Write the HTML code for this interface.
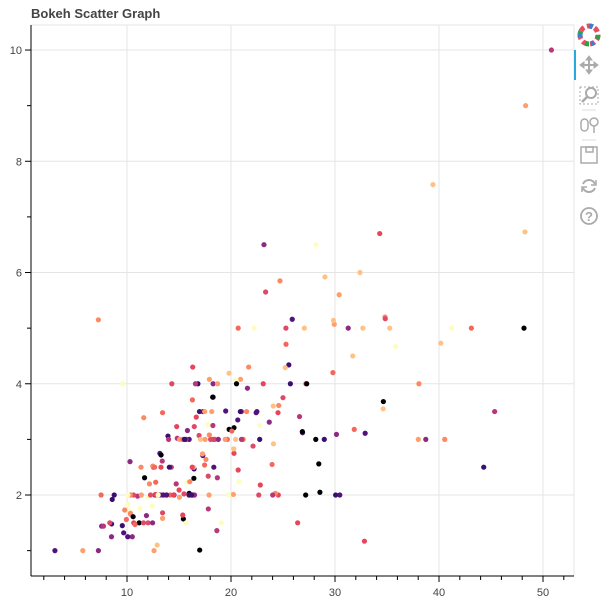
<!DOCTYPE html>
<html><head><meta charset="utf-8">
<style>
body{margin:0;background:#fff;font-family:"Liberation Sans",sans-serif;}
#wrap{position:relative;width:613px;height:611px;overflow:hidden;}
</style></head>
<body>
<div id="wrap">
<svg id="chart" width="613" height="611" xmlns="http://www.w3.org/2000/svg">
<text x="31" y="18" font-size="13" font-weight="bold" fill="#444">Bokeh Scatter Graph</text>
<rect x="31" y="25" width="543" height="551" fill="none" stroke="#e5e5e5"/>
<g id="grid"></g>
<g id="points"></g>
<g id="axes"></g>
<g id="toolbar">
 <g transform="translate(589,35)">
  <circle r="9" fill="none" stroke="#e84d60" stroke-width="5" stroke-dasharray="5 3"/>
  <circle r="9" fill="none" stroke="#2da14b" stroke-width="5" stroke-dasharray="4 10"/>
  <circle r="9" fill="none" stroke="#3a7fd6" stroke-width="5" stroke-dasharray="3 14" stroke-dashoffset="8"/>
 </g>
 <rect x="574" y="50" width="2" height="30" fill="#26aae1"/>
 <g transform="translate(589,65)" stroke="#aaa" fill="#aaa">
  <line x1="-8" y1="0" x2="8" y2="0" stroke-width="2"/><line x1="0" y1="-8" x2="0" y2="8" stroke-width="2"/>
  <path d="M-9 0 l4 -3 v6z M9 0 l-4 -3 v6z M0 -9 l-3 4 h6z M0 9 l-3 -4 h6z"/>
 </g>
 <g transform="translate(589,95)" stroke="#aaa" fill="none">
  <rect x="-9" y="-8" width="18" height="17" stroke-dasharray="2 2"/>
  <circle cx="2" cy="-2" r="5" stroke-width="2"/><line x1="-2" y1="2" x2="-7" y2="7" stroke-width="2.5"/>
 </g>
 <line x1="582" y1="110" x2="596" y2="110" stroke="#ddd"/>
 <g transform="translate(589,125)" stroke="#aaa" fill="none" stroke-width="1.5">
  <rect x="-8" y="-6" width="7" height="12" rx="3.5"/><circle cx="5" cy="-3" r="4"/><line x1="5" y1="1" x2="5" y2="8"/>
 </g>
 <line x1="582" y1="140" x2="596" y2="140" stroke="#ddd"/>
 <g transform="translate(589,155)" stroke="#aaa" fill="none" stroke-width="1.5">
  <rect x="-8" y="-8" width="16" height="16"/><rect x="-3" y="-8" width="7" height="5"/>
 </g>
 <g transform="translate(589,186)" stroke="#aaa" fill="none" stroke-width="2">
  <path d="M-6 -2 A6.5 6.5 0 0 1 6 -2"/><path d="M6 2 A6.5 6.5 0 0 1 -6 2"/>
  <path d="M7 -6 v5 h-5" stroke-width="1.5"/><path d="M-7 6 v-5 h5" stroke-width="1.5"/>
 </g>
 <g transform="translate(589,216)">
  <circle r="8" fill="none" stroke="#aaa" stroke-width="1.8"/>
  <text x="0" y="5" font-size="13" font-weight="bold" fill="#aaa" text-anchor="middle">?</text>
 </g>
</g>
</svg>
</div>
<script>
const totalBill=[16.99,10.34,21.01,23.68,24.59,25.29,8.77,26.88,15.04,14.78,10.27,35.26,15.42,18.43,14.83,21.58,10.33,16.29,16.97,20.65,17.92,20.29,15.77,39.42,19.82,17.81,13.37,12.69,21.7,19.65,9.55,18.35,15.06,20.69,17.78,24.06,16.31,16.93,18.69,31.27,16.04,17.46,13.94,9.68,30.4,18.29,22.23,32.4,28.55,18.04,12.54,10.29,34.81,9.94,25.56,19.49,38.01,26.41,11.24,48.27,20.29,13.81,11.02,18.29,17.59,20.08,16.45,3.07,20.23,15.01,12.02,17.07,26.86,25.28,14.73,10.51,17.92,27.2,22.76,17.29,19.44,16.66,10.07,32.68,15.98,34.83,13.03,18.28,24.71,21.16,28.97,22.49,5.75,16.32,22.75,40.17,27.28,12.03,21.01,12.46,11.35,15.38,44.3,22.42,20.92,15.36,20.49,25.21,18.24,14.31,14.0,7.25,38.07,23.95,25.71,17.31,29.93,10.65,12.43,24.08,11.69,13.42,14.26,15.95,12.48,29.8,8.52,14.52,11.38,22.82,19.08,20.27,11.17,12.26,18.26,8.51,10.33,14.15,16.0,13.16,17.47,34.3,41.19,27.05,16.43,8.35,18.64,11.87,9.78,7.51,14.07,13.13,17.26,24.55,19.77,29.85,48.17,25.0,13.39,16.49,21.5,12.66,16.21,13.81,17.51,24.52,20.76,31.71,10.59,10.63,50.81,15.81,7.25,31.85,16.82,32.9,17.89,14.48,9.6,34.63,34.65,23.33,45.35,23.17,40.55,20.69,20.9,30.46,18.15,23.1,15.69,19.81,28.44,15.48,16.58,7.56,10.34,43.11,13.0,13.51,18.71,12.74,13.0,16.4,20.53,16.47,26.59,38.73,24.27,12.76,30.06,25.89,48.33,13.27,28.17,12.9,28.15,11.59,7.74,30.14,12.16,13.42,8.58,15.98,13.42,16.27,10.09,20.45,13.28,22.12,24.01,15.69,11.61,10.77,15.53,10.07,12.6,32.83,35.83,29.03,27.18,22.67,17.82,18.78];
const tips=[1.01,1.66,3.5,3.31,3.61,4.71,2.0,3.12,1.96,3.23,1.71,5.0,1.57,3.0,3.02,3.92,1.67,3.71,3.5,3.35,4.08,2.75,2.23,7.58,3.18,2.34,2.0,2.0,4.3,3.0,1.45,2.5,3.0,2.45,3.27,3.6,2.0,3.07,2.31,5.0,2.24,2.54,3.06,1.32,5.6,3.0,5.0,6.0,2.05,3.0,2.5,2.6,5.2,1.56,4.34,3.51,3.0,1.5,1.76,6.73,3.21,2.0,1.98,3.76,2.64,3.15,2.47,1.0,2.01,2.09,1.97,3.0,3.14,5.0,2.2,1.25,3.08,4.0,3.0,2.71,3.0,3.4,1.83,5.0,2.03,5.17,2.0,4.0,5.85,3.0,3.0,3.5,1.0,4.3,3.25,4.73,4.0,1.5,3.0,1.5,2.5,3.0,2.5,3.48,4.08,1.64,4.06,4.29,3.76,4.0,3.0,1.0,4.0,2.55,4.0,3.5,5.07,1.5,1.8,2.92,2.31,1.68,2.5,2.0,2.52,4.2,1.48,2.0,2.0,2.18,1.5,2.83,1.5,2.0,3.25,1.25,2.0,2.0,2.0,2.75,3.5,6.7,5.0,5.0,2.3,1.5,1.36,1.63,1.73,2.0,2.5,2.0,2.74,2.0,2.0,5.14,5.0,3.75,2.61,2.0,3.5,2.5,2.0,2.0,3.0,3.48,2.24,4.5,1.61,2.0,10.0,3.16,5.15,3.18,4.0,3.11,2.0,2.0,4.0,3.55,3.68,5.65,3.5,6.5,3.0,5.0,3.5,2.0,3.5,4.0,1.5,4.19,2.56,2.02,4.0,1.44,2.0,5.0,2.0,2.0,4.0,2.01,2.0,2.5,4.0,3.23,3.41,3.0,2.03,2.23,2.0,5.16,9.0,2.5,6.5,1.1,3.0,1.5,1.44,3.09,2.2,3.48,1.92,3.0,1.58,2.5,2.0,3.0,2.72,2.88,2.0,3.0,3.39,1.47,3.0,1.25,1.0,1.17,4.67,5.92,2.0,2.0,1.75,3.0];
const xTicks=[10,20,30,40,50];
const yTicks=[2,4,6,8,10];
const palette=["#000004","#51127c","#b73779","#e8445a","#fc8961","#fec287","#3b0f70","#de4968","#fe9f6d","#8c2981","#fcfdbf","#f4685c"];
const NS="http://www.w3.org/2000/svg";
const L=31,R=574,T=25,B=576,xMin=0.77,xMax=52.98,yMin=0.544,yMax=10.45;
const sx=v=>L+(v-xMin)/(xMax-xMin)*(R-L);
const sy=v=>B-(v-yMin)/(yMax-yMin)*(B-T);
function mk(tag,attrs,parent){const e=document.createElementNS(NS,tag);for(const k in attrs)e.setAttribute(k,attrs[k]);parent.appendChild(e);return e;}
const grid=document.getElementById('grid'),axes=document.getElementById('axes'),pts=document.getElementById('points');
xTicks.forEach(t=>{const g=mk('line',{x1:sx(t),x2:sx(t),y1:T,y2:B,stroke:'#e5e5e5'},grid);

});
yTicks.forEach(t=>{const g=mk('line',{x1:L,x2:R,y1:sy(t),y2:sy(t),stroke:'#e5e5e5'},grid);

});
totalBill.forEach((b,i)=>{const c=mk('circle',{cx:sx(b),cy:sy(tips[i]),r:2.6,fill:palette[(i*7)%palette.length]},pts);

});
const xa=mk('line',{x1:L,x2:R,y1:B,y2:B,stroke:'#000','stroke-width':1},axes);


const ya=mk('line',{x1:L,x2:L,y1:T,y2:B,stroke:'#000','stroke-width':1},axes);


for(let v=2;v<=52;v+=2){const x=sx(v);if(x<L||x>R)continue;const major=v%10===0;
mk('line',{x1:x,x2:x,y1:B,y2:B+(major?6:4),stroke:'#000'},axes);}
for(let v=1;v<=10;v+=1){const y=sy(v);if(y<T||y>B)continue;const major=v%2===0;
mk('line',{x1:L,x2:L-(major?6:4),y1:y,y2:y,stroke:'#000'},axes);}
xTicks.forEach(t=>{const tx=mk('text',{x:sx(t),y:B+20,'font-size':11,fill:'#444','text-anchor':'middle'},axes);tx.textContent=t;

});
yTicks.forEach(t=>{const tx=mk('text',{x:L-9,y:sy(t)+4,'font-size':11,fill:'#444','text-anchor':'end'},axes);tx.textContent=t;

});
</script>
</body></html>
